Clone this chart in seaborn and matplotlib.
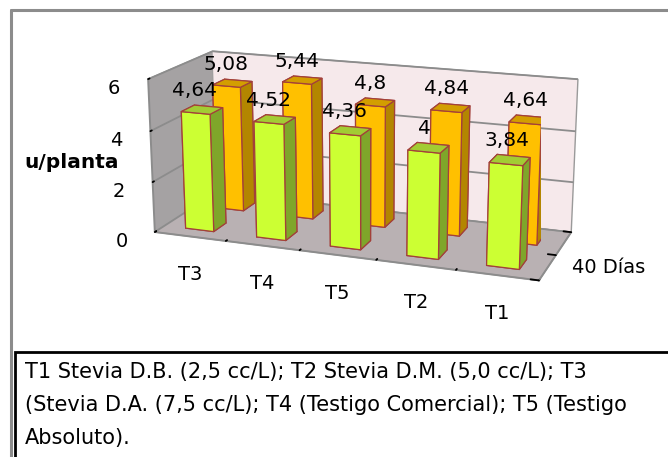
import matplotlib
matplotlib.use("Agg")
import matplotlib.pyplot as plt
import matplotlib.transforms as mtransforms
import seaborn as sns
import numpy as np
import pandas as pd
from matplotlib.patches import Rectangle
from matplotlib.lines import Line2D
from mpl_toolkits.mplot3d import proj3d

# ---- data ----
categories = ["T3", "T4", "T5", "T2", "T1"]
front_values = [4.64, 4.52, 4.36, 4.00, 3.84]    # green series (front row)
back_values = [5.08, 5.44, 4.80, 4.84, 4.64]     # orange series (back row)
depth_labels = ["40 Días", ""]
z_ticks = [0, 2, 4, 6]
y_title = "u/planta"
caption_lines = [
    "T1 Stevia D.B. (2,5 cc/L); T2 Stevia D.M. (5,0 cc/L); T3",
    "(Stevia D.A. (7,5 cc/L); T4 (Testigo Comercial); T5 (Testigo",
    "Absoluto).",
]

df = pd.DataFrame({"cat": categories, "front": front_values, "back": back_values})

sns.set_theme(style="white")
plt.rcParams["font.family"] = ["DejaVu Sans"]
plt.rcParams["text.color"] = "black"
plt.rcParams["xtick.color"] = "black"
plt.rcParams["ytick.color"] = "black"

W, H = 668, 457
fig = plt.figure(figsize=(W / 100, H / 100), dpi=100)

def fx(px):
    return px / W

def fy(py):
    return 1 - py / H

ax = fig.add_axes([0.086, 0.246, 0.9, 0.8], projection="3d",
                  proj_type="persp", focal_length=0.7)
ax.view_init(elev=16, azim=-70)
ax.set_box_aspect((4.0, 1.45, 1.6), zoom=1.2)
ax.computed_zorder = False

edge = "#A3403A"
green_faces = ["#7FA62A", "#A2CC33", "#CCFF33", "#CCFF33", "#7FA62A", "#7FA62A"]
orange_faces = ["#B38600", "#D39E00", "#FFC000", "#FFC000", "#B38600", "#B38600"]

bw = 0.4
for i, row in df.iterrows():
    ax.bar3d(i + 0.3, 1.3, 0, bw, bw, row["back"], color=orange_faces,
             edgecolor=edge, linewidth=0.9, shade=False, zsort="max", zorder=2)
for i, row in df.iterrows():
    ax.bar3d(i + 0.3, 0.3, 0, bw, bw, row["front"], color=green_faces,
             edgecolor=edge, linewidth=0.9, shade=False, zsort="max", zorder=3)

ax.set_xlim(0, 5)
ax.set_ylim(0, 2)
ax.set_zlim(0, 6)

# tick marks at the category / series boundaries, labels placed separately
ax.set_xticks(np.arange(len(categories) + 1))
ax.set_xticklabels([""] * (len(categories) + 1))
ax.set_yticks(np.arange(len(depth_labels) + 1))
ax.set_yticklabels([""] * (len(depth_labels) + 1))
ax.set_zticks(z_ticks)
ax.set_zticklabels([str(t) for t in z_ticks], fontsize=14)
ax.zaxis.set_ticks_position("lower")

# panes
ax.xaxis.set_pane_color("#A5A2A3")   # left wall
ax.yaxis.set_pane_color("#F6E9EB")   # back wall
ax.zaxis.set_pane_color("#B9B1B3")   # floor
for a in (ax.xaxis, ax.yaxis, ax.zaxis):
    a.pane.set_edgecolor("#9A9A9A")
    a.line.set_color("#8C8C8C")
    a.line.set_linewidth(1.4)
    a._axinfo["tick"]["color"] = "#8C8C8C"
    a._axinfo["tick"]["linewidth"] = {True: 1.3, False: 1.0}
    a._axinfo["tick"]["inward_factor"] = 0.0
    a._axinfo["tick"]["outward_factor"] = 0.25

ax.xaxis._axinfo["grid"]["color"] = (1, 1, 1, 0)
ax.yaxis._axinfo["grid"]["color"] = (1, 1, 1, 0)
ax.zaxis._axinfo["grid"]["color"] = "#8C8C8C"
ax.zaxis._axinfo["grid"]["linewidth"] = 1.3
ax.grid(True)
ax.tick_params(axis="z", pad=3)

# labels: project 3D anchors through the axes' own projection
fig.canvas.draw()
M = ax.get_proj()

def label(x, y, z, s, dx=0, dy=0, ha="center", size=14.5):
    x2, y2, _ = proj3d.proj_transform(x, y, z, M)
    tr = mtransforms.offset_copy(ax.transData, fig=fig, x=dx, y=dy, units="dots")
    ax.text2D(x2, y2, s, transform=tr, ha=ha, va="center",
              fontsize=size, color="black", zorder=100)

for i, row in df.iterrows():
    label(i + 0.5, 0.3, row["front"] + 0.85, f"{row['front']:g}".replace(".", ","))
    label(i + 0.5, 1.3, row["back"] + 0.85, f"{row['back']:g}".replace(".", ","))

for i, c in enumerate(categories):
    label(i + 0.5, 0, 0, c, dy=-38, size=14)

for j, d in enumerate(depth_labels):
    if d:
        label(5, j + 0.5, 0, d, dx=24, ha="left", size=14)

fig.text(fx(72), fy(162), y_title, fontsize=14.5, fontweight="bold",
         ha="center", va="center")

# outer chart frame (grey) and caption box (black)
fig.add_artist(Line2D([fx(11), fx(11)], [fy(10), fy(460)], color="#8C8C8C", lw=2.2))
fig.add_artist(Line2D([fx(11), fx(670)], [fy(10), fy(10)], color="#8C8C8C", lw=2.2))
fig.add_artist(Rectangle((fx(15), fy(470)), fx(700), fy(352) - fy(470),
                         transform=fig.transFigure, facecolor="white",
                         edgecolor="black", lw=2))
for k, line in enumerate(caption_lines):
    fig.text(fx(25), fy(372 + 33 * k), line, fontsize=15, ha="left", va="center")

fig.savefig("out.png", dpi=100)
